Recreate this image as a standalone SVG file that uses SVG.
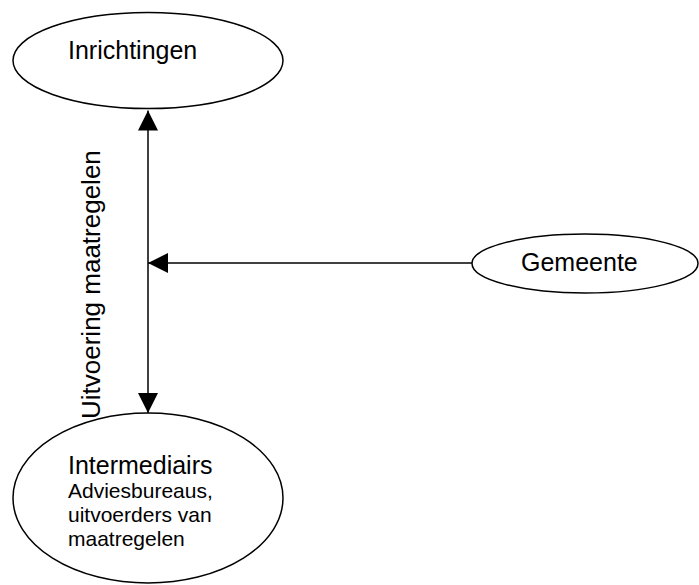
<svg xmlns="http://www.w3.org/2000/svg" width="699" height="585" viewBox="0 0 699 585">
<style>
.node{fill:#fff;stroke:#000;stroke-width:1.5}
.t{font-family:"Liberation Sans",Arial,sans-serif;fill:#000}
.edge{stroke:#000;stroke-width:1.5;fill:none}
</style>
<defs>
<marker id="ah" viewBox="0 0 20 20" refX="20" refY="10" markerWidth="20" markerHeight="20" markerUnits="userSpaceOnUse" orient="auto">
<path d="M0,0 L20,10 L0,20 Z" fill="#000"/>
</marker>
</defs>
<rect width="699" height="585" fill="#fff"/>
<g id="inrichtingen">
<ellipse class="node" cx="148" cy="60.5" rx="135" ry="48"/>
<text class="t" x="68" y="59" font-size="25">Inrichtingen</text>
</g>
<g id="gemeente">
<ellipse class="node" cx="585" cy="263.5" rx="113" ry="29.5"/>
<text class="t" x="521" y="271" font-size="25">Gemeente</text>
</g>
<g id="intermediairs">
<ellipse class="node" cx="148" cy="498" rx="135" ry="85"/>
<text class="t" x="68" y="474" font-size="25">Intermediairs</text>
<text class="t" x="68" y="498" font-size="21">Adviesbureaus,</text>
<text class="t" x="68" y="522" font-size="21">uitvoerders van</text>
<text class="t" x="68" y="546" font-size="21">maatregelen</text>
</g>
<g id="connectors">
<line class="edge" x1="148" y1="262" x2="148" y2="110.5" marker-end="url(#ah)"/>
<line class="edge" x1="148" y1="262" x2="148" y2="413" marker-end="url(#ah)"/>
<line class="edge" x1="472" y1="263" x2="148" y2="263" marker-end="url(#ah)"/>
<text class="t" x="100" y="419" font-size="26" transform="rotate(-90 100 419)">Uitvoering maatregelen</text>
</g>
</svg>
